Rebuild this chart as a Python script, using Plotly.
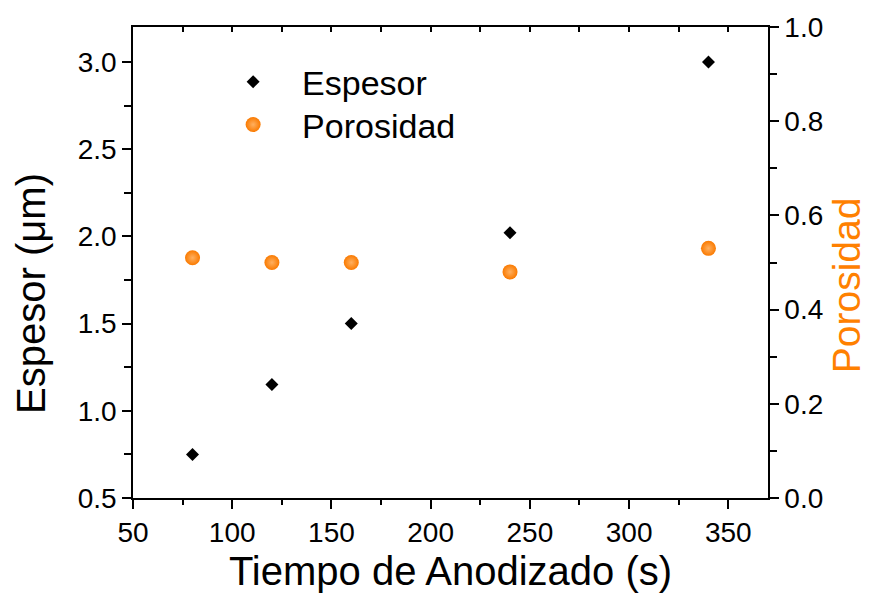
import plotly.graph_objects as go

tiempo = [80, 120, 160, 240, 340]
espesor = [0.75, 1.15, 1.50, 2.02, 3.00]
porosidad = [0.51, 0.50, 0.50, 0.48, 0.53]

FONT = "Liberation Sans, Arial, sans-serif"
ORANGE = "#FF8000"

fig = go.Figure()
fig.add_trace(go.Scatter(
    x=tiempo, y=espesor, mode="markers", name="Espesor",
    marker=dict(symbol="diamond", size=10, color="black"),
    xaxis="x", yaxis="y", legend="legend"))
fig.add_trace(go.Scatter(
    x=tiempo, y=porosidad, mode="markers", name="Porosidad",
    marker=dict(symbol="circle", size=15, color="#FA7A00",
                gradient=dict(type="radial", color="#FFB060")),
    xaxis="x", yaxis="y2", legend="legend2"))
# invisible trace to carry the top (mirror) axis
fig.add_trace(go.Scatter(x=[tiempo[0]], y=[espesor[0]], mode="markers",
                         marker=dict(opacity=0), showlegend=False,
                         hoverinfo="skip", xaxis="x2", yaxis="y"))

tickfont = dict(family=FONT, size=28, color="black")

fig.update_layout(
    width=870, height=597,
    margin=dict(l=133, r=102, t=27, b=99),
    paper_bgcolor="white", plot_bgcolor="white",
    font=dict(family=FONT, color="black"),
    xaxis=dict(
        range=[50, 370], tickmode="linear", tick0=50, dtick=50,
        ticks="outside", ticklen=9, tickwidth=1.5, tickcolor="black",
        minor=dict(dtick=25, ticks="outside", ticklen=5, tickwidth=1.5, tickcolor="black"),
        showline=True, linecolor="black", linewidth=1.5,
        showgrid=False, zeroline=False, tickfont=tickfont,
        title=dict(text="Tiempo de Anodizado (s)", font=dict(family=FONT, size=40), standoff=10),
    ),
    xaxis2=dict(
        range=[50, 370], overlaying="x", side="top", matches="x",
        tickmode="linear", tick0=50, dtick=25,
        ticks="inside", ticklen=5, tickwidth=1.5, tickcolor="black",
        showticklabels=False, showline=True, linecolor="black", linewidth=1.5,
        showgrid=False, zeroline=False,
    ),
    yaxis=dict(
        range=[0.5, 3.2], tickmode="linear", tick0=0.5, dtick=0.5, tickformat=".1f",
        ticks="outside", ticklen=9, tickwidth=1.5, tickcolor="black",
        minor=dict(dtick=0.25, ticks="outside", ticklen=7, tickwidth=1.5, tickcolor="black"),
        showline=True, linecolor="black", linewidth=1.5,
        showgrid=False, zeroline=False, tickfont=tickfont,
    ),
    yaxis2=dict(
        range=[0, 1.0], overlaying="y", side="right",
        tickmode="linear", tick0=0, dtick=0.2, tickformat=".1f",
        ticks="outside", ticklen=9, tickwidth=1.5, tickcolor="black",
        minor=dict(dtick=0.1, ticks="outside", ticklen=7, tickwidth=1.5, tickcolor="black"),
        showline=True, linecolor="black", linewidth=1.5,
        showgrid=False, zeroline=False, tickfont=tickfont,
    ),
    annotations=[
        dict(text="Espesor (μm)", xref="paper", yref="paper", x=-0.161, y=0.435,
             xanchor="center", yanchor="middle", textangle=-90, showarrow=False,
             font=dict(family=FONT, size=40, color="black")),
        dict(text="Porosidad", xref="paper", yref="paper", x=1.123, y=0.452,
             xanchor="center", yanchor="middle", textangle=-90, showarrow=False,
             font=dict(family=FONT, size=39, color=ORANGE)),
    ],
    legend=dict(x=0.112, y=0.883, xanchor="left", yanchor="middle",
                bgcolor="rgba(0,0,0,0)", itemwidth=88,
                font=dict(family=FONT, size=34, color="black")),
    legend2=dict(x=0.112, y=0.792, xanchor="left", yanchor="middle",
                 bgcolor="rgba(0,0,0,0)", itemwidth=88,
                 font=dict(family=FONT, size=34, color="black")),
)

fig.write_html("out.html")
